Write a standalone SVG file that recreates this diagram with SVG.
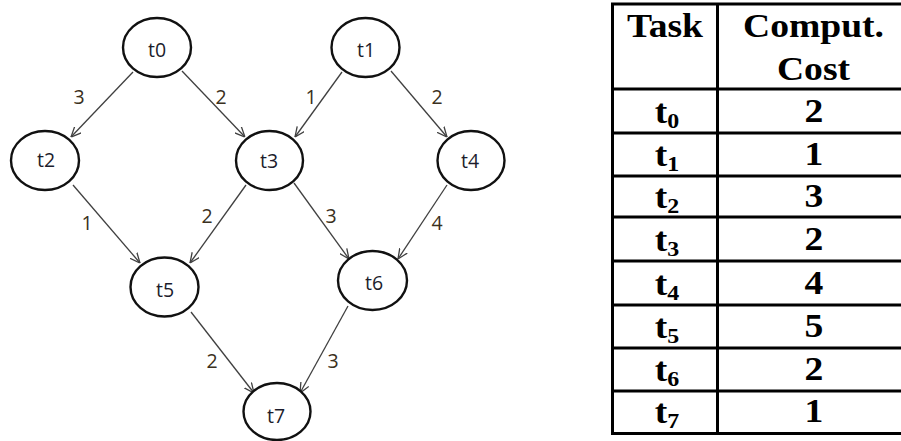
<svg xmlns="http://www.w3.org/2000/svg" width="901" height="441" viewBox="0 0 901 441">
  <defs>
    <marker id="arrow" viewBox="0 0 10 10" refX="10" refY="5" markerWidth="10" markerHeight="10" markerUnits="userSpaceOnUse" orient="auto">
      <path d="M0,0.5 L10,5 L0,9.5" fill="none" stroke="#404040" stroke-width="1.3"/>
    </marker>
    <style>
      .node ellipse { fill: #fff; stroke: #111; stroke-width: 2.4; }
      .node text { font-family: "Open Sans", "DejaVu Sans", sans-serif; font-size: 19.5px; fill: #1c1c2c; text-anchor: middle; }
      .edge { stroke: #404040; stroke-width: 1.3; fill: none; marker-end: url(#arrow); }
      .elabel { font-family: "Open Sans", "DejaVu Sans", sans-serif; font-size: 19.5px; fill: #3a3020; text-anchor: middle; }
      .grid { stroke: #000; stroke-width: 3; fill: none; }
      .cell { font-family: "Liberation Serif", "Times New Roman", serif; font-weight: bold; font-size: 33px; fill: #000; text-anchor: middle; }
      .sub { font-size: 21px; }
    </style>
  </defs>

  <!-- connectors -->
  <g id="connectors">
    <line class="edge" x1="133" y1="72" x2="71" y2="137"/>
    <line class="edge" x1="182" y1="71" x2="245" y2="137"/>
    <line class="edge" x1="342" y1="72" x2="295" y2="137"/>
    <line class="edge" x1="391" y1="71" x2="447" y2="137"/>
    <line class="edge" x1="73" y1="185" x2="140" y2="263"/>
    <line class="edge" x1="246" y1="185" x2="190" y2="263"/>
    <line class="edge" x1="294" y1="183" x2="349" y2="259"/>
    <line class="edge" x1="447" y1="185" x2="398" y2="259"/>
    <line class="edge" x1="191" y1="312" x2="254" y2="393"/>
    <line class="edge" x1="348" y1="306" x2="300" y2="393"/>

    <text class="elabel" x="79" y="104">3</text>
    <text class="elabel" x="221" y="104">2</text>
    <text class="elabel" x="311" y="104">1</text>
    <text class="elabel" x="437" y="104">2</text>
    <text class="elabel" x="87" y="230">1</text>
    <text class="elabel" x="207" y="223">2</text>
    <text class="elabel" x="331" y="223">3</text>
    <text class="elabel" x="437" y="230">4</text>
    <text class="elabel" x="212" y="368">2</text>
    <text class="elabel" x="333" y="368">3</text>
  </g>

  <!-- task nodes -->
  <g id="t0" class="node"><ellipse cx="157" cy="47.5" rx="34" ry="29.5"/><text x="157" y="57">t0</text></g>
  <g id="t1" class="node"><ellipse cx="365.5" cy="47.5" rx="34" ry="29.5"/><text x="366" y="57">t1</text></g>
  <g id="t2" class="node"><ellipse cx="45" cy="160.5" rx="34" ry="29.5"/><text x="46" y="167">t2</text></g>
  <g id="t3" class="node"><ellipse cx="269.5" cy="160.5" rx="33.5" ry="29.5"/><text x="269" y="168">t3</text></g>
  <g id="t4" class="node"><ellipse cx="471" cy="160.5" rx="33.5" ry="29.5"/><text x="470" y="168">t4</text></g>
  <g id="t5" class="node"><ellipse cx="164.5" cy="287" rx="34" ry="29.5"/><text x="165" y="297">t5</text></g>
  <g id="t6" class="node"><ellipse cx="372.5" cy="280.5" rx="34.5" ry="29.5"/><text x="374" y="290">t6</text></g>
  <g id="t7" class="node"><ellipse cx="277" cy="411.5" rx="33.5" ry="28.5"/><text x="276" y="423">t7</text></g>

  <!-- computation cost table -->
  <g id="cost-table">
    <path class="grid" d="M612.5,4 H901 M612.5,89 H901 M612.5,133 H901 M612.5,176 H901 M612.5,217 H901 M612.5,261 H901 M612.5,305 H901 M612.5,348 H901 M612.5,391 H901 M612.5,433.5 H901 M612.5,2.5 V435 M717.5,2.5 V435"/>

    <g transform="translate(665,37) scale(1.14,1)"><text class="cell" x="0" y="0">Task</text></g>
    <g transform="translate(813.5,37) scale(1.14,1)"><text class="cell" x="0" y="0">Comput.</text></g>
    <g transform="translate(813.5,80) scale(1.14,1)"><text class="cell" x="0" y="0">Cost</text></g>

    <g transform="translate(667,123) scale(1.14,1)"><text class="cell" x="0" y="0">t<tspan class="sub" dy="5">0</tspan></text></g>
    <g transform="translate(667,166) scale(1.14,1)"><text class="cell" x="0" y="0">t<tspan class="sub" dy="5">1</tspan></text></g>
    <g transform="translate(667,208) scale(1.14,1)"><text class="cell" x="0" y="0">t<tspan class="sub" dy="5">2</tspan></text></g>
    <g transform="translate(667,251) scale(1.14,1)"><text class="cell" x="0" y="0">t<tspan class="sub" dy="5">3</tspan></text></g>
    <g transform="translate(667,295) scale(1.14,1)"><text class="cell" x="0" y="0">t<tspan class="sub" dy="5">4</tspan></text></g>
    <g transform="translate(667,338) scale(1.14,1)"><text class="cell" x="0" y="0">t<tspan class="sub" dy="5">5</tspan></text></g>
    <g transform="translate(667,381) scale(1.14,1)"><text class="cell" x="0" y="0">t<tspan class="sub" dy="5">6</tspan></text></g>
    <g transform="translate(667,423) scale(1.14,1)"><text class="cell" x="0" y="0">t<tspan class="sub" dy="5">7</tspan></text></g>

    <g transform="translate(814,122) scale(1.14,1)"><text class="cell" x="0" y="0">2</text></g>
    <g transform="translate(814,165) scale(1.14,1)"><text class="cell" x="0" y="0">1</text></g>
    <g transform="translate(814,207) scale(1.14,1)"><text class="cell" x="0" y="0">3</text></g>
    <g transform="translate(814,250) scale(1.14,1)"><text class="cell" x="0" y="0">2</text></g>
    <g transform="translate(814,294) scale(1.14,1)"><text class="cell" x="0" y="0">4</text></g>
    <g transform="translate(814,337) scale(1.14,1)"><text class="cell" x="0" y="0">5</text></g>
    <g transform="translate(814,380) scale(1.14,1)"><text class="cell" x="0" y="0">2</text></g>
    <g transform="translate(814,422) scale(1.14,1)"><text class="cell" x="0" y="0">1</text></g>
  </g>
</svg>
